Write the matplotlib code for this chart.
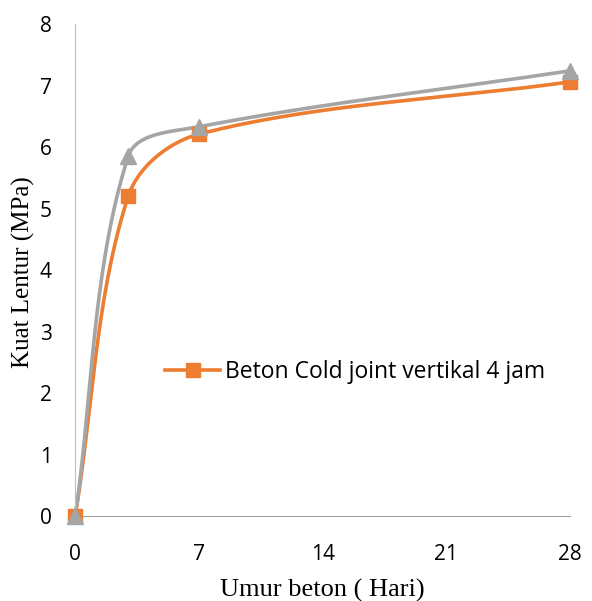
import numpy as np
import matplotlib
matplotlib.use("Agg")
import matplotlib.pyplot as plt

umur = [0, 3, 7, 28]
kuat_4jam = [0, 5.2, 6.21, 7.06]
kuat_normal = [0, 5.85, 6.33, 7.24]
x_ticks = [0, 7, 14, 21, 28]

ORANGE = "#ED7D31"
GRAY = "#A5A5A5"


def smooth_curve(ax, xs, ys, f=0.33, n=60):
	# excel-like bezier smoothing in pixel space, tangent length scaled per segment
	p = ax.transData.transform(np.column_stack([xs, ys]))
	m = len(p)
	tang = []
	for i in range(m):
		d = p[min(i + 1, m - 1)] - p[max(i - 1, 0)]
		tang.append(d / np.linalg.norm(d))
	out = []
	t = np.linspace(0, 1, n)[:, None]
	for i in range(m - 1):
		p0, p3 = p[i], p[i + 1]
		L = np.linalg.norm(p3 - p0)
		c1 = p0 + tang[i] * L * f
		c2 = p3 - tang[i + 1] * L * f
		seg = (1 - t) ** 3 * p0 + 3 * (1 - t) ** 2 * t * c1 + 3 * (1 - t) * t ** 2 * c2 + t ** 3 * p3
		out.append(seg)
	out = np.vstack(out)
	return ax.transData.inverted().transform(out).T


fig = plt.figure(figsize=(5.92, 6.01), dpi=100)
ax = fig.add_axes([0.127, 0.141, 0.836, 0.819])
ax.set_xlim(0, 28)
ax.set_ylim(0, 8)

sx, sy = smooth_curve(ax, umur, kuat_4jam)
ax.plot(sx, sy, color=ORANGE, lw=2.6, zorder=2, clip_on=False)
ax.plot(umur, kuat_4jam, ls="none", marker="s", ms=10, color=ORANGE, zorder=3, clip_on=False)

sx, sy = smooth_curve(ax, umur, kuat_normal)
ax.plot(sx, sy, color=GRAY, lw=2.6, zorder=2, clip_on=False)
ax.plot(umur, kuat_normal, ls="none", marker="^", ms=11, color=GRAY, zorder=3, clip_on=False)

# legend proxy, only the orange series is listed
ax.plot([], [], color=ORANGE, lw=2.6, marker="s", ms=10, label="Beton Cold joint vertikal 4 jam")
ax.legend(loc="center left", bbox_to_anchor=(0.182, 0.293), frameon=False, borderpad=0,
	borderaxespad=0, prop={"family": "Open Sans", "size": 16.5}, handlelength=2.4, handletextpad=0.2)

ax.set_xticks(x_ticks)
ax.set_yticks(range(0, 9))
ax.tick_params(length=0, labelsize=15)
for lab in ax.get_xticklabels() + ax.get_yticklabels():
	lab.set_fontfamily("Open Sans")
ax.tick_params(axis="x", pad=20)
ax.tick_params(axis="y", pad=17)

for s in ["top", "right"]:
	ax.spines[s].set_visible(False)
ax.spines["left"].set_color("#BFBFBF")
ax.spines["bottom"].set_color("#A0A0A0")

ax.set_xlabel("Umur beton ( Hari)", family="Liberation Serif", fontsize=19)
ax.set_ylabel("Kuat Lentur (MPa)", family="Liberation Serif", fontsize=18)
# place the titles where they sit in the reference (axes-fraction coords)
ax.xaxis.set_label_coords(0.5, -0.15)
ax.yaxis.set_label_coords(-0.104, 0.497)
ax.xaxis.label.set_va("center")
ax.yaxis.label.set_va("center")

fig.savefig("out.png", dpi=100)
